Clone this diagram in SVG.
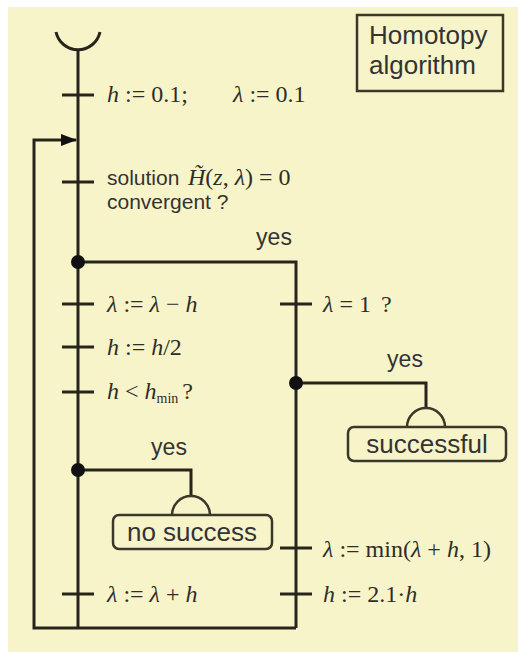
<svg xmlns="http://www.w3.org/2000/svg" width="518" height="652" viewBox="0 0 518 652">
<style>
.ln{stroke:#26251c;stroke-width:3;fill:none;stroke-linejoin:miter}
.bx{stroke:#3a3828;stroke-width:2.5;fill:none}
.dot{fill:#111}
.s{font-family:"Liberation Sans",Arial,sans-serif;fill:#333;font-size:21px}
.b{font-family:"Liberation Sans",Arial,sans-serif;fill:#333;font-size:26px}
.y{font-family:"Liberation Sans",Arial,sans-serif;fill:#333;font-size:23px;text-anchor:middle}
.m{font-family:"Liberation Serif","Times New Roman",serif;fill:#2e2e28;font-size:24px}
.i{font-style:italic}
</style>
<defs>
<marker id="ah" markerWidth="16" markerHeight="12" refX="15" refY="6" orient="auto" markerUnits="userSpaceOnUse">
<path d="M0,0 L16,6 L0,12 Z" fill="#111"/>
</marker>
</defs>
<rect x="8" y="7" width="510" height="645" fill="#f8f4ca"/>
<g id="connectors">
<path class="ln" d="M56,32 A22.5,22.5 0 0 0 100,32"/>
<line class="ln" x1="78" y1="50" x2="78" y2="628"/>
<path class="ln" d="M78,628 L34,628 L34,140 L76,140" marker-end="url(#ah)"/>
<line class="ln" x1="78" y1="628" x2="296" y2="628"/>
<path class="ln" d="M78,262 L296,262 L296,628"/>
<path class="ln" d="M296,383 L426,383 L426,408"/>
<path class="ln" d="M78,470 L191,470 L191,496"/>
<g id="ticks">
<line class="ln" x1="62" y1="95" x2="94" y2="95"/>
<line class="ln" x1="62" y1="182" x2="94" y2="182"/>
<line class="ln" x1="62" y1="304" x2="94" y2="304"/>
<line class="ln" x1="62" y1="347" x2="94" y2="347"/>
<line class="ln" x1="62" y1="392" x2="94" y2="392"/>
<line class="ln" x1="62" y1="594" x2="94" y2="594"/>
<line class="ln" x1="280" y1="304" x2="312" y2="304"/>
<line class="ln" x1="280" y1="548" x2="312" y2="548"/>
<line class="ln" x1="280" y1="594" x2="312" y2="594"/>
</g>
<circle class="dot" cx="78" cy="262" r="7"/>
<circle class="dot" cx="296" cy="383" r="7"/>
<circle class="dot" cx="78" cy="470" r="7"/>
<text class="y" x="274" y="245">yes</text>
<text class="y" x="405" y="367">yes</text>
<text class="y" x="169" y="455">yes</text>
</g>
<g id="title">
<rect class="bx" x="357" y="15" width="146" height="76"/>
<text class="b" x="369" y="44">Homotopy</text>
<text class="b" x="369" y="74">algorithm</text>
</g>
<g id="init">
<text class="m" x="107" y="102"><tspan class="i">h</tspan> := 0.1;<tspan x="233" class="i">λ</tspan> := 0.1</text>
</g>
<g id="solve">
<text class="s" x="107" y="185">solution</text>
<text class="m" x="188" y="185" font-size="23"><tspan class="i">H̃</tspan>(<tspan class="i">z</tspan>, <tspan class="i">λ</tspan>) = 0</text>
<text class="s" x="107" y="209">convergent  ?</text>
</g>
<g id="dec">
<text class="m" x="107" y="312"><tspan class="i">λ</tspan> := <tspan class="i">λ</tspan> − <tspan class="i">h</tspan></text>
</g>
<g id="half">
<text class="m" x="107" y="355"><tspan class="i">h</tspan> := <tspan class="i">h</tspan>/2</text>
</g>
<g id="hmin">
<text class="m" x="107" y="399"><tspan class="i">h</tspan> &lt; <tspan class="i">h</tspan><tspan font-size="14" dy="4">min</tspan><tspan dy="-4" dx="4">?</tspan></text>
</g>
<g id="inc">
<text class="m" x="107" y="602"><tspan class="i">λ</tspan> := <tspan class="i">λ</tspan> + <tspan class="i">h</tspan></text>
</g>
<g id="check">
<text class="m" x="323" y="312"><tspan class="i">λ</tspan> = 1<tspan dx="10">?</tspan></text>
</g>
<g id="lmin">
<text class="m" x="323" y="557"><tspan class="i">λ</tspan> := min(<tspan class="i">λ</tspan> + <tspan class="i">h</tspan>, 1)</text>
</g>
<g id="hinc">
<text class="m" x="323" y="602"><tspan class="i">h</tspan> := 2.1·<tspan class="i">h</tspan></text>
</g>
<g id="successful">
<path class="bx" d="M407,427 A19,19 0 0 1 445,427"/>
<rect class="bx" x="348" y="427" width="158" height="34" rx="6"/>
<text class="b" x="427" y="453" text-anchor="middle">successful</text>
</g>
<g id="nosuccess">
<path class="bx" d="M172,515 A19,19 0 0 1 210,515"/>
<rect class="bx" x="113" y="515" width="159" height="34" rx="6"/>
<text class="b" x="192" y="541" text-anchor="middle">no success</text>
</g>
</svg>
